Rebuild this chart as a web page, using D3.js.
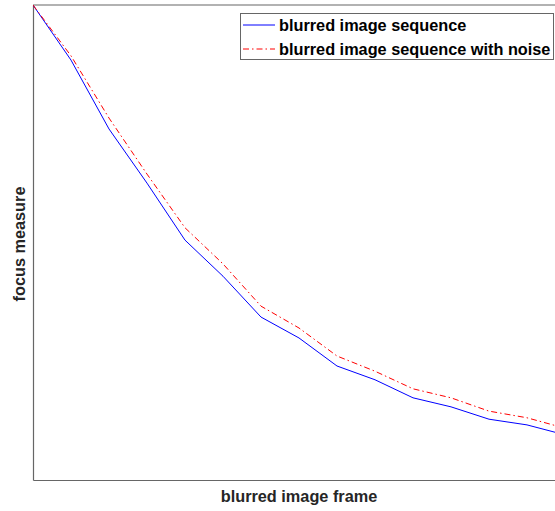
<!DOCTYPE html>
<html>
<head>
<meta charset="utf-8">
<script src="https://cdn.jsdelivr.net/npm/d3@7"></script>
<style>
  html, body { margin: 0; padding: 0; background: #fff; }
  svg { display: block; }
</style>
</head>
<body>
<div id="chart"></div>
<script>
// ---- data (normalized focus measure per blurred frame) ----
const frames = [1, 2, 3, 4, 5, 6, 7, 8, 9, 10, 11, 12, 13, 14, 15];
const blurred = [1.000, 0.884, 0.739, 0.625, 0.505, 0.429, 0.343, 0.299, 0.240, 0.211, 0.173, 0.154, 0.128, 0.116, 0.095];
const blurredNoise = [1.000, 0.893, 0.762, 0.644, 0.531, 0.455, 0.366, 0.320, 0.261, 0.229, 0.192, 0.173, 0.145, 0.131, 0.109];
const seriesNames = ["blurred image sequence", "blurred image sequence with noise"];
const xLabel = "blurred image frame";
const yLabel = "focus measure";

const W = 555, H = 511;
const pL = 33, pT = 5, pR = 565, pB = 480;

const svg = d3.select("#chart").append("svg").attr("width", W).attr("height", H);

const x = d3.scaleLinear().domain([1, 15]).range([pL, pR]);
const y = d3.scaleLinear().domain([0, 1]).range([pB, pT]);

svg.append("clipPath").attr("id", "plotclip").append("rect")
  .attr("x", pL).attr("y", pT).attr("width", pR - pL).attr("height", pB - pT);

const font = "'Liberation Sans', Arial, sans-serif";
const fs = 16.3;

// axes box (no ticks)
const xAxis = d3.axisBottom(x).tickValues([]).tickSizeOuter(0);
const yAxis = d3.axisLeft(y).tickValues([]).tickSizeOuter(0);
svg.append("g").attr("transform", `translate(0,${pB})`).call(xAxis)
  .select(".domain").attr("stroke", "#666").attr("stroke-width", 1.2);
svg.append("g").attr("transform", `translate(${pL},0)`).call(yAxis)
  .select(".domain").attr("stroke", "#666").attr("stroke-width", 1.2);
svg.append("line").attr("x1", pL).attr("x2", pR).attr("y1", pT).attr("y2", pT)
  .attr("stroke", "#666").attr("stroke-width", 1.2);

const line = d3.line().x((d, i) => x(frames[i])).y(d => y(d));

const g = svg.append("g").attr("clip-path", "url(#plotclip)");
g.append("path").datum(blurred).attr("d", line)
  .attr("fill", "none").attr("stroke", "#0000ff").attr("stroke-width", 1);
g.append("path").datum(blurredNoise).attr("d", line)
  .attr("fill", "none").attr("stroke", "#ff0000").attr("stroke-width", 1)
  .attr("stroke-dasharray", "6,3,1.5,3");

// axis labels
svg.append("text").attr("x", 299).attr("y", 501.5).attr("text-anchor", "middle")
  .attr("font-family", font).attr("font-weight", "bold").attr("font-size", fs)
  .attr("fill", "#262626").text(xLabel);
svg.append("text").attr("transform", "translate(25,244) rotate(-90)").attr("text-anchor", "middle")
  .attr("font-family", font).attr("font-weight", "bold").attr("font-size", fs)
  .attr("fill", "#262626").text(yLabel);

// legend
const lg = svg.append("g");
lg.append("rect").attr("x", 240.5).attr("y", 13.5).attr("width", 313).attr("height", 46)
  .attr("fill", "#fff").attr("stroke", "#666").attr("stroke-width", 1);
const styles = [{ c: "#0000ff", d: null }, { c: "#ff0000", d: "6,3,1.5,3" }];
seriesNames.forEach((n, i) => {
  const yy = 25 + i * 24;
  lg.append("line").attr("x1", 243).attr("x2", 275).attr("y1", yy).attr("y2", yy)
    .attr("stroke", styles[i].c).attr("stroke-width", 1)
    .attr("stroke-dasharray", styles[i].d);
  lg.append("text").attr("x", 279).attr("y", yy + 5.5).attr("font-family", font)
    .attr("font-weight", "bold").attr("font-size", fs).attr("fill", "#000").text(n);
});
</script>
</body>
</html>
